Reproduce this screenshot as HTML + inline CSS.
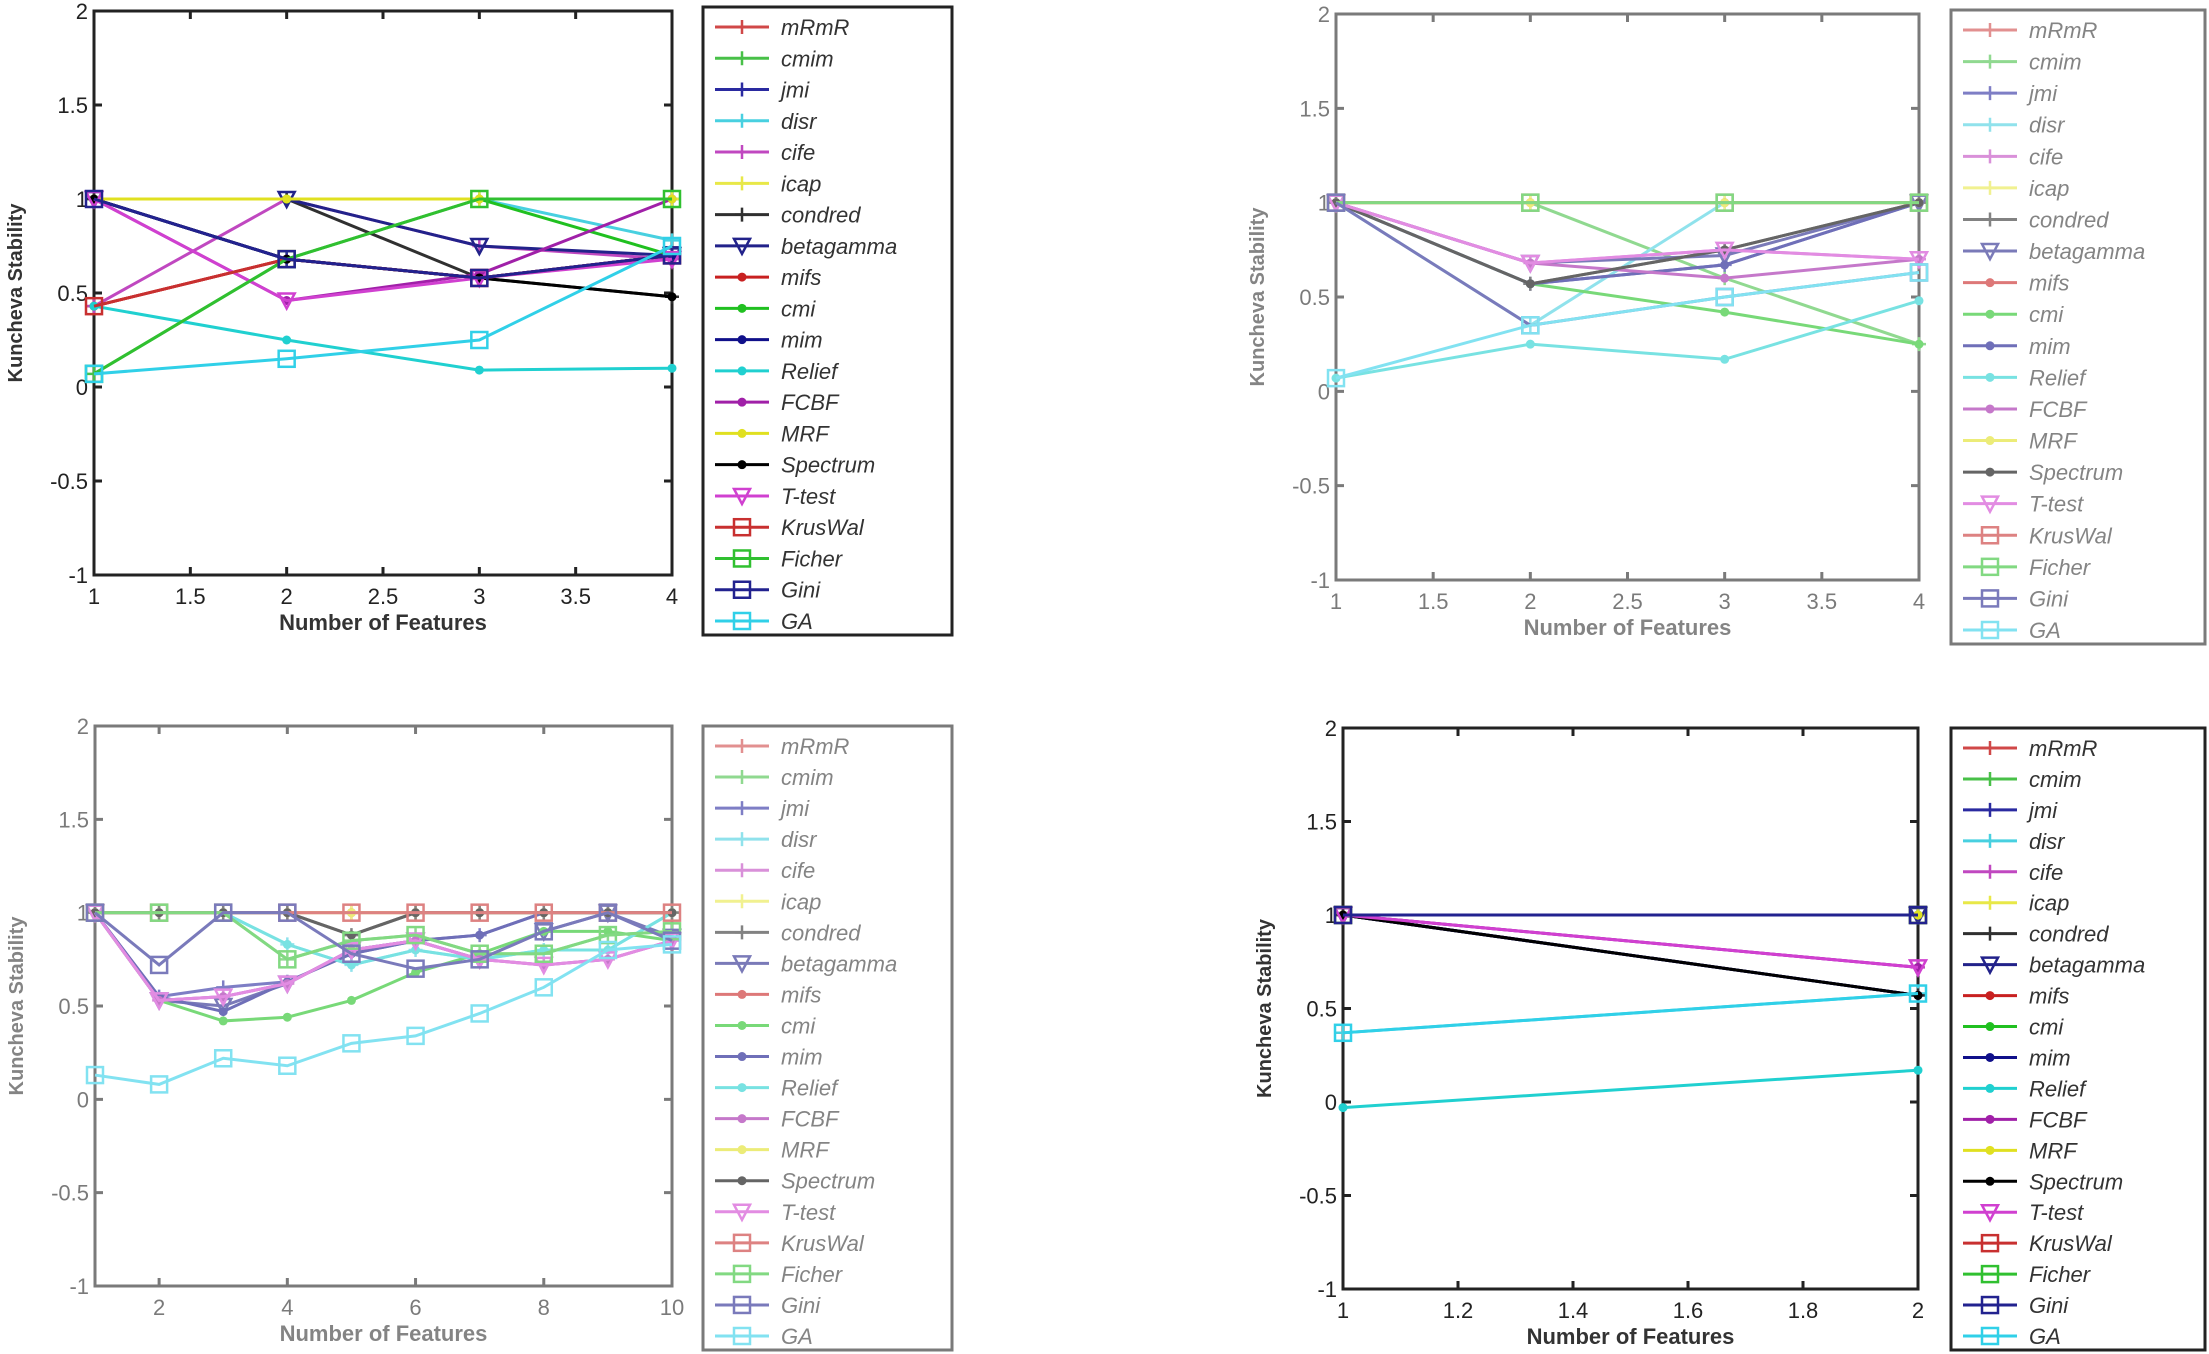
<!DOCTYPE html>
<html><head><meta charset="utf-8">
<style>
html,body{margin:0;padding:0;background:#fff;}
svg{display:block;font-family:"Liberation Sans",sans-serif;}
</style></head>
<body>
<svg id="fig" width="2209" height="1354" viewBox="0 0 2209 1354" xmlns="http://www.w3.org/2000/svg"></svg>
<script>
const seriesNames = ["mRmR","cmim","jmi","disr","cife","icap","condred","betagamma","mifs","cmi","mim","Relief","FCBF","MRF","Spectrum","T-test","KrusWal","Ficher","Gini","GA"];
const seriesColors = ["#d04848","#48c048","#2a2aa0","#48d0e0","#c048c0","#e8e848","#303030","#22228a","#c82020","#20c020","#10108a","#20d0d0","#a020a8","#e0e020","#000000","#d040d0","#c83030","#30c030","#22228f","#30d0e8"];
const seriesMarkers = ["+","+","+","+","+","+","+","v","*","*","*","*","*","*","*","v","s","s","s","s"];

const p1X = [1,2,3,4];
const p1Values = [
 [0.43,0.68,0.58,0.7],[0.07,0.68,1,1],[1,0.68,0.58,0.7],[1,1,1,0.78],[0.43,1,0.75,0.68],
 [1,1,1,1],[1,1,0.58,0.48],[1,1,0.75,0.7],[0.43,0.68,0.58,0.7],[1,1,1,0.7],
 [1,0.68,0.58,0.7],[0.43,0.25,0.09,0.1],[1,0.46,0.6,1],[1,1,1,1],[1,0.68,0.58,0.48],
 [1,0.46,0.58,0.68],[0.43,0.68,0.58,0.7],[0.07,0.68,1,1],[1,0.68,0.58,0.7],[0.07,0.15,0.25,0.75]];
const p1XTicks = [1,1.5,2,2.5,3,3.5,4];
const p1XTickLabels = ["1","1.5","2","2.5","3","3.5","4"];

const p2X = [1,2,3,4];
const p2Values = [
 [1,1,1,1],[1,1,0.6,0.25],[1,0.57,0.67,1],[1,0.35,1,1],[1,0.68,0.75,0.7],
 [1,1,1,1],[1,0.57,0.75,1],[1,0.68,0.72,1],[1,1,1,1],[1,0.57,0.42,0.25],
 [1,0.57,0.67,1],[0.07,0.25,0.17,0.48],[1,0.68,0.6,0.7],[1,1,1,1],[1,0.57,0.75,1],
 [1,0.68,0.75,0.7],[1,1,1,1],[1,1,1,1],[1,0.35,0.5,0.63],[0.07,0.35,0.5,0.63]];
const p2XTicks = [1,1.5,2,2.5,3,3.5,4];
const p2XTickLabels = ["1","1.5","2","2.5","3","3.5","4"];

const p3X = [1,2,3,4,5,6,7,8,9,10];
const p3Values = [
 [1,1,1,1,1,1,1,1,1,1],[1,1,1,0.75,0.85,0.88,0.78,0.78,0.88,0.9],[1,0.55,0.6,0.63,0.78,0.85,0.88,1,1,1],
 [1,1,1,0.83,0.72,0.8,0.75,0.8,0.8,1],[1,0.53,0.55,0.62,0.8,0.85,0.75,0.72,0.75,0.85],
 [1,1,1,1,1,1,1,1,1,1],[1,1,1,1,0.88,1,1,1,1,1],[1,0.53,0.5,0.62,0.8,0.85,0.75,0.9,1,0.87],
 [1,1,1,1,1,1,1,1,1,1],[1,0.53,0.42,0.44,0.53,0.68,0.78,0.9,0.9,0.85],[1,0.55,0.47,0.63,0.78,0.85,0.88,1,1,1],
 [1,1,1,0.83,0.72,0.8,0.75,0.8,0.8,1],[1,0.53,0.55,0.62,0.8,0.85,0.75,0.72,0.75,0.85],[1,1,1,1,1,1,1,1,1,1],
 [1,1,1,1,0.88,1,1,1,1,1],[1,0.53,0.55,0.62,0.8,0.85,0.75,0.72,0.75,0.85],[1,1,1,1,1,1,1,1,1,1],
 [1,1,1,0.75,0.85,0.88,0.78,0.78,0.88,0.9],[1,0.72,1,1,0.78,0.7,0.75,0.9,1,0.85],[0.13,0.08,0.22,0.18,0.3,0.34,0.46,0.6,0.8,0.83]];
const p3XTicks = [2,4,6,8,10];
const p3XTickLabels = ["2","4","6","8","10"];

const p4X = [1,2];
const p4Values = [
 [1,1],[1,1],[1,0.57],[0.37,0.58],[1,0.72],[1,1],[1,0.57],[1,1],[1,1],[1,1],
 [1,0.57],[-0.03,0.17],[1,0.72],[1,1],[1,0.57],[1,0.72],[1,1],[1,1],[1,1],[0.37,0.58]];
const p4XTicks = [1,1.2,1.4,1.6,1.8,2];
const p4XTickLabels = ["1","1.2","1.4","1.6","1.8","2"];

const yTicks = [-1,-0.5,0,0.5,1,1.5,2];
const yTickLabels = ["-1","-0.5","0","0.5","1","1.5","2"];

const NS="http://www.w3.org/2000/svg";
const svg=document.getElementById('fig');
function mk(tag,attrs,parent){const e=document.createElementNS(NS,tag);for(const k in attrs)e.setAttribute(k,attrs[k]);parent.appendChild(e);return e;}

function marker(g,type,x,y,c){
  const s=7;
  if(type==="+"){mk('path',{d:`M${x-s} ${y}H${x+s}M${x} ${y-s}V${y+s}`,stroke:c,'stroke-width':2.5,fill:'none'},g);}
  else if(type==="*"){mk('circle',{cx:x,cy:y,r:4.5,fill:c},g);}
  else if(type==="v"){mk('path',{d:`M${x-8} ${y-7}L${x+8} ${y-7}L${x} ${y+8}Z`,stroke:c,'stroke-width':2.5,fill:'none'},g);}
  else {mk('rect',{x:x-8,y:y-8,width:16,height:16,stroke:c,'stroke-width':2.5,fill:'none'},g);}
}

function panel(name,cfg,xs,vals,xt,xtl){
  const g=mk('g',{opacity:cfg.op},svg);
  
  
  const L=cfg.x0,R=cfg.x1,T=cfg.y0,B=cfg.y1;
  const xS=v=>L+(v-cfg.xmin)/(cfg.xmax-cfg.xmin)*(R-L);
  const yS=v=>B-(v+1)/3*(B-T);
  // axes box
  const box=mk('rect',{x:L,y:T,width:R-L,height:B-T,fill:'none',stroke:'#222','stroke-width':3},g);
  
  
  yTicks.forEach((v,i)=>{
    const y=yS(v);
    mk('path',{d:`M${L} ${y}h8M${R} ${y}h-8`,stroke:'#222','stroke-width':3},g);
    const t=mk('text',{x:L-6,y:y+8,'text-anchor':'end','font-size':22,fill:'#222'},g);
    t.textContent=yTickLabels[i];
    
    
  });
  xt.forEach((v,i)=>{
    const x=xS(v);
    mk('path',{d:`M${x} ${B}v-8M${x} ${T}v8`,stroke:'#222','stroke-width':3},g);
    const t=mk('text',{x:x,y:B+29,'text-anchor':'middle','font-size':22,fill:'#222'},g);
    t.textContent=xtl[i];
    
    
  });
  const xl=mk('text',{x:(L+R)/2,y:B+55,'text-anchor':'middle','font-size':22,'font-weight':'bold',fill:'#333'},g);
  xl.textContent='Number of Features';
  
  
  const yl=mk('text',{x:0,y:0,'text-anchor':'middle','font-size':20,'font-weight':'bold',fill:'#333',transform:`translate(${L-72},${yS(0.5)}) rotate(-90)`},g);
  yl.textContent='Kuncheva Stability';
  
  
  // series
  vals.forEach((arr,si)=>{
    const sg=mk('g',{},g);
    
    
    const c=seriesColors[si];
    const pts=arr.map((v,i)=>xS(xs[i])+','+yS(v)).join(' ');
    mk('polyline',{points:pts,fill:'none',stroke:c,'stroke-width':3},sg);
    arr.forEach((v,i)=>marker(sg,seriesMarkers[si],xS(xs[i]),yS(v),c));
  });
  // legend
  const lg=mk('g',{},g);
  
  
  mk('rect',{x:cfg.lx0,y:cfg.ly0,width:cfg.lx1-cfg.lx0,height:cfg.ly1-cfg.ly0,fill:'#fff',stroke:'#222','stroke-width':3},lg);
  const step=(cfg.ly1-cfg.ly0-34)/19;
  seriesNames.forEach((n,i)=>{
    const eg=mk('g',{},lg);
    
    
    const y=cfg.ly0+20+i*step;
    const c=seriesColors[i];
    mk('path',{d:`M${cfg.lx0+12} ${y}H${cfg.lx0+66}`,stroke:c,'stroke-width':3},eg);
    marker(eg,seriesMarkers[i],cfg.lx0+39,y,c);
    const t=mk('text',{x:cfg.lx0+78,y:y+8,'font-size':22,'font-style':'italic',fill:'#333'},eg);
    t.textContent=n;
  });
}

panel('chart-top-left',{x0:94,x1:672,y0:11,y1:575,xmin:1,xmax:4,lx0:703,lx1:952,ly0:7,ly1:635,op:1},p1X,p1Values,p1XTicks,p1XTickLabels);
panel('chart-top-right',{x0:1336,x1:1919,y0:14,y1:580,xmin:1,xmax:4,lx0:1951,lx1:2205,ly0:10,ly1:644,op:0.6},p2X,p2Values,p2XTicks,p2XTickLabels);
panel('chart-bottom-left',{x0:95,x1:672,y0:726,y1:1286,xmin:1,xmax:10,lx0:703,lx1:952,ly0:726,ly1:1350,op:0.6},p3X,p3Values,p3XTicks,p3XTickLabels);
panel('chart-bottom-right',{x0:1343,x1:1918,y0:728,y1:1289,xmin:1,xmax:2,lx0:1951,lx1:2205,ly0:728,ly1:1350,op:1},p4X,p4Values,p4XTicks,p4XTickLabels);
</script>
</body></html>
